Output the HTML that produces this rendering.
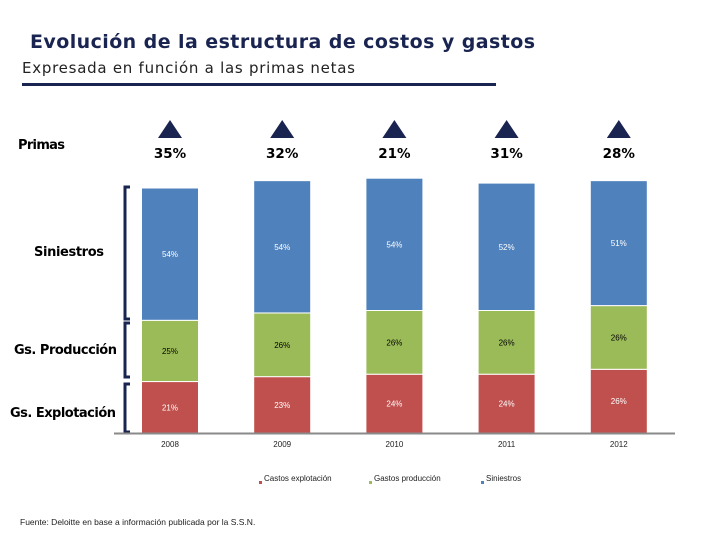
<!DOCTYPE html>
<html><head><meta charset="utf-8"><style>
body{margin:0;background:#fff;}
svg{display:block;font-family:"Liberation Sans",sans-serif;}
</style></head><body>
<svg id="c" width="720" height="540" viewBox="0 0 720 540">
<text x="30" y="48" font-size="19" font-weight="bold" fill="#1a2451" font-family="DejaVu Sans, sans-serif" textLength="505">Evolución de la estructura de costos y gastos</text>
<text x="22" y="73" font-size="15" fill="#222" font-family="DejaVu Sans, sans-serif" textLength="333">Expresada en función a las primas netas</text>
<rect x="22" y="83" width="474" height="3" fill="#1a2451"/>
<text x="18" y="149" font-size="13" fill="#000" font-weight="bold" font-family="DejaVu Sans, sans-serif" textLength="47">Primas</text>
<text x="34" y="256" font-size="13" fill="#000" font-weight="bold" font-family="DejaVu Sans, sans-serif" textLength="70">Siniestros</text>
<text x="14" y="354" font-size="13" fill="#000" font-weight="bold" font-family="DejaVu Sans, sans-serif" textLength="103">Gs. Producción</text>
<text x="10" y="417" font-size="13" fill="#000" font-weight="bold" font-family="DejaVu Sans, sans-serif" textLength="106">Gs. Explotación</text>
<path d="M130,187 H125 V319 H130" fill="none" stroke="#1a2451" stroke-width="3"/>
<path d="M130,323 H125 V377 H130" fill="none" stroke="#1a2451" stroke-width="3"/>
<path d="M130,384 H125 V432 H130" fill="none" stroke="#1a2451" stroke-width="3"/>
<g id="bars"></g>
<line x1="114" y1="433.5" x2="675" y2="433.5" stroke="#8a8a8a" stroke-width="2"/>
<rect x="259" y="481" width="3" height="3" fill="#c0504d"/>
<text x="264" y="481" font-size="8" fill="#222">Castos explotación</text>
<rect x="369" y="481" width="3" height="3" fill="#9bbb59"/>
<text x="374" y="481" font-size="8" fill="#222">Gastos producción</text>
<rect x="481" y="481" width="3" height="3" fill="#4f81bd"/>
<text x="486" y="481" font-size="8" fill="#222">Siniestros</text>
<text x="20" y="525" font-size="8.5" fill="#222">Fuente: Deloitte en base a  información publicada por la S.S.N.</text>
</svg>
<script>
const years=['2008','2009','2010','2011','2012'];
const explotacion=[21,23,24,24,26];
const produccion=[25,26,26,26,26];
const siniestros=[54,54,54,52,51];
const primas=[35,32,21,31,28];
const ns='http://www.w3.org/2000/svg';
const g=document.getElementById('bars');
const x0=170,step=112.2,bw=57,base=433,k=2.45;
const xc=i=>x0+i*step;
const yv=v=>base-v*k;
function mk(t,a){const e=document.createElementNS(ns,t);for(const n in a)e.setAttribute(n,a[n]);g.appendChild(e);return e;}
years.forEach((yr,i)=>{
  const cx=xc(i);
  const series=[[explotacion,'#c0504d','#fff','explotacion'],[produccion,'#9bbb59','#000','produccion'],[siniestros,'#4f81bd','#fff','siniestros']];
  let acc=0;
  series.forEach(s=>{
    const v=s[0][i];
    const top=yv(acc+v),bot=yv(acc);
    const r=mk('rect',{x:cx-bw/2,y:top,width:bw,height:bot-top,fill:s[1],stroke:'#fff','stroke-width':1});
    
    
    const t=mk('text',{x:cx,y:(top+bot)/2+3,'font-size':8,fill:s[2],'text-anchor':'middle'});
    t.textContent=v+'%';
    
    
    acc+=v;
  });
  const yl=mk('text',{x:cx,y:447,'font-size':8,fill:'#222','text-anchor':'middle'});
  yl.textContent=yr;
  
  
  const tri=mk('polygon',{points:(cx-12)+',138 '+cx+',120 '+(cx+12)+',138',fill:'#1a2451'});
  
  
  const pt=mk('text',{x:cx,y:158,'font-size':13.5,fill:'#000','text-anchor':'middle','font-family':'DejaVu Sans, sans-serif','font-weight':'bold'});
  pt.textContent=primas[i]+'%';
  
  
});
</script>
</body></html>
